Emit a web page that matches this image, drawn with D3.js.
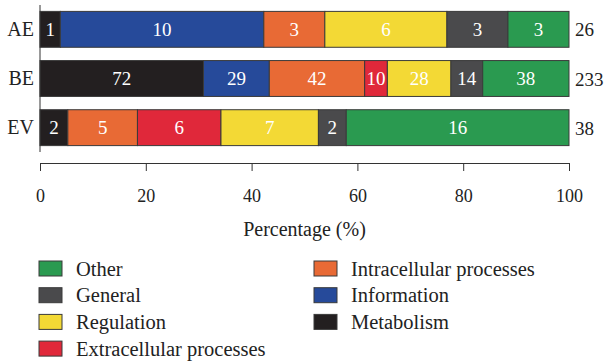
<!DOCTYPE html>
<html><head><meta charset="utf-8">
<script src="https://cdn.jsdelivr.net/npm/d3@7"></script>
<style>body{margin:0;background:#fff}svg{display:block}svg text{font-family:"Liberation Serif","DejaVu Serif",serif !important}</style>
</head><body>
<svg id="c" width="606" height="362"></svg>
<script>
const rows = ["AE", "BE", "EV"];
const categories = ["Metabolism", "Information", "Intracellular processes", "Extracellular processes", "Regulation", "General", "Other"];
const metabolism = [1, 72, 2];
const information = [10, 29, 0];
const intracellular = [3, 42, 5];
const extracellular = [0, 10, 6];
const regulation = [6, 28, 7];
const general = [3, 14, 2];
const other = [3, 38, 16];
const totals = [26, 233, 38];
const xTicks = [0, 20, 40, 60, 80, 100];
const colors = ["#231f20", "#264a9a", "#e86a35", "#e0283a", "#f3d935", "#4a4a4c", "#2a9a50"];
const legendLeft = ["Other", "General", "Regulation", "Extracellular processes"];
const legendRight = ["Intracellular processes", "Information", "Metabolism"];

const series = [metabolism, information, intracellular, extracellular, regulation, general, other];
const svg = d3.select("#c");
const x = d3.scaleLinear().domain([0, 100]).range([40, 569]);
const y = d3.scaleBand().domain(rows).range([5, 152]).paddingInner(0.27).paddingOuter(0.13);
const color = d3.scaleOrdinal().domain(categories).range(colors);

const data = rows.map((r, i) => {
  let acc = 0;
  return categories.map((c, k) => {
    const v = series[k][i];
    const p0 = acc / totals[i] * 100;
    acc += v;
    const p1 = acc / totals[i] * 100;
    return {row: r, cat: c, v, p0, p1};
  }).filter(d => d.v > 0);
});

const g = svg.append("g");
data.forEach(segs => {
  g.selectAll(null).data(segs).enter().append("rect")
    .attr("x", d => x(d.p0)).attr("y", d => y(d.row))
    .attr("width", d => x(d.p1) - x(d.p0)).attr("height", y.bandwidth())
    .attr("fill", d => color(d.cat)).attr("stroke", "#3a3a3a").attr("stroke-width", 1);
  g.selectAll(null).data(segs).enter().append("text")
    .attr("x", d => (x(d.p0) + x(d.p1)) / 2).attr("y", d => y(d.row) + y.bandwidth() / 2 + 6.5)
    .attr("text-anchor", "middle").attr("fill", "#fff").attr("font-size", 19)
    .text(d => d.v);
});

const ya = svg.append("g").attr("transform", "translate(40,0)").call(d3.axisLeft(y).tickSize(0).tickPadding(6));
ya.select(".domain").attr("stroke", "#333").attr("d", "M0,5V152");
ya.selectAll("text").attr("font-size", 20).attr("fill", "#222").attr("dy", "0.34em");

svg.selectAll(".tot").data(rows).enter().append("text")
  .attr("x", 575).attr("y", d => y(d) + y.bandwidth() / 2 + 7)
  .attr("font-size", 19).attr("fill", "#222").text((d, i) => totals[i]);

const xa = svg.append("g").attr("transform", "translate(0,163)")
  .call(d3.axisBottom(x).tickValues(xTicks).tickSize(8).tickSizeOuter(0).tickPadding(18));
xa.select(".domain").attr("stroke", "#333");
xa.selectAll("line").attr("stroke", "#333");
xa.selectAll("text").attr("font-size", 18).attr("fill", "#222");

svg.append("text").attr("x", (x(0) + x(100)) / 2).attr("y", 236).attr("text-anchor", "middle")
  .attr("font-size", 20).attr("fill", "#222").text("Percentage (%)");

function legend(items, lx, ly) {
  const lg = svg.append("g").selectAll("g").data(items).enter().append("g")
    .attr("transform", (d, i) => `translate(${lx},${ly + i * 26.7})`);
  lg.append("rect").attr("x", 0).attr("y", -8).attr("width", 23).attr("height", 15)
    .attr("fill", d => color(d)).attr("stroke", "#3a3a3a").attr("stroke-width", 1);
  lg.append("text").attr("x", 37).attr("y", 6.5).attr("font-size", 20.5).attr("fill", "#222").text(d => d);
}
legend(legendLeft, 39, 269);
legend(legendRight, 314, 269);
</script>
</body></html>
